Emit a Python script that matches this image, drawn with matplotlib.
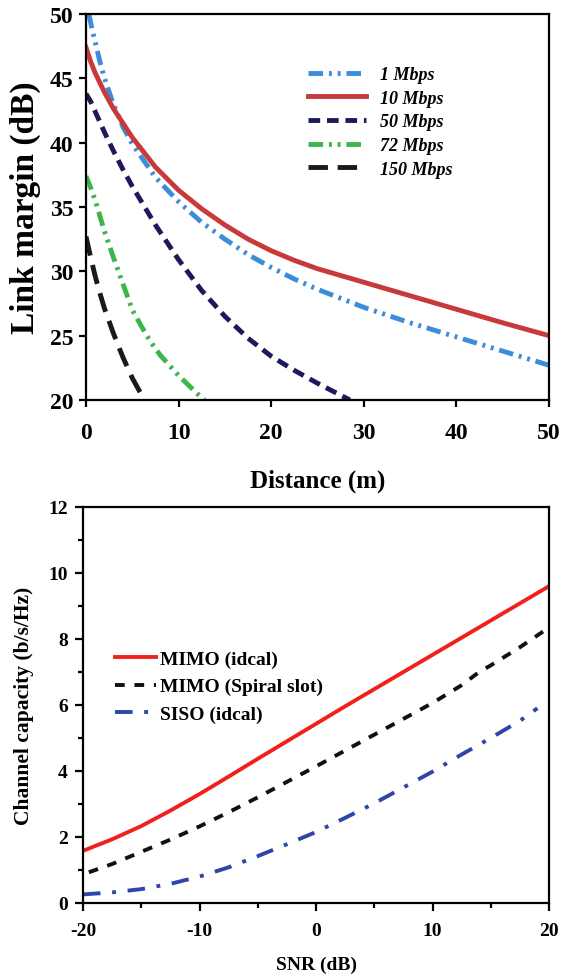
import matplotlib
matplotlib.use("Agg")
import matplotlib.pyplot as plt
from matplotlib.ticker import MultipleLocator

plt.rcParams['font.family'] = ['Liberation Serif', 'DejaVu Serif']
plt.rcParams['font.weight'] = 'bold'
plt.rcParams['axes.unicode_minus'] = False

# ---- top panel: link margin vs distance ----
rate_labels = ['1 Mbps', '10 Mbps', '50 Mbps', '72 Mbps', '150 Mbps']

dist_1 = [0.3, 0.6, 1, 1.5, 2, 3, 4, 5, 7.5, 10, 12.5, 15, 17.5, 20, 22.5, 25, 30, 35, 40, 45, 50]
margin_1 = [50, 49.0, 47.8, 46.3, 45.0, 42.9, 41.2, 39.9, 37.3, 35.4, 33.8, 32.5, 31.3,
            30.3, 29.4, 28.6, 27.2, 26.0, 24.9, 23.8, 22.7]

dist_10 = [0, 0.5, 1, 2, 3, 5, 7.5, 10, 12.5, 15, 17.5, 20, 22.5, 25, 30, 35, 40, 45, 50]
margin_10 = [47.4, 46.3, 45.4, 43.9, 42.6, 40.4, 38.1, 36.3, 34.85, 33.6, 32.5, 31.6,
             30.85, 30.2, 29.15, 28.1, 27.05, 26.0, 25.0]

dist_50 = [0, 0.5, 1, 2, 3, 4, 5, 7.5, 10, 12.5, 15, 17.5, 20, 22.5, 25, 28.5]
margin_50 = [43.8, 43.2, 42.4, 40.8, 39.3, 37.9, 36.6, 33.6, 30.9, 28.5, 26.5, 24.8,
             23.4, 22.3, 21.3, 20.0]

dist_72 = [0, 0.5, 1, 2, 3, 4, 5, 6, 7, 8, 9, 10, 11, 12, 12.8]
margin_72 = [37.4, 36.5, 35.5, 33.1, 31.0, 29.0, 27.0, 25.7, 24.5, 23.5, 22.7, 21.9,
             21.2, 20.5, 20.0]

dist_150 = [0, 0.5, 1, 1.5, 2, 3, 4, 5, 6.3]
margin_150 = [32.7, 31.1, 29.6, 28.3, 27.1, 25.1, 23.3, 21.7, 20.0]

# ---- bottom panel: channel capacity vs SNR ----
cap_labels = ['MIMO (idcal)', 'MIMO (Spiral slot)', 'SISO (idcal)']

snr_mimo = [-20, -17.5, -15, -12.5, -10, -7.5, -5, -2.5, 0, 2.5, 5, 7.5, 10, 12.5, 15, 17.5, 20]
cap_mimo = [1.58, 1.93, 2.33, 2.8, 3.3, 3.83, 4.37, 4.9, 5.43, 5.96, 6.48, 7.0, 7.52,
            8.04, 8.56, 9.08, 9.6]

snr_spiral = [-19.5, -17.5, -15, -12.5, -10, -7.5, -5, -2.5, 0, 2.5, 5, 7.5, 10, 12.5, 14, 15, 17.5, 19.8]
cap_spiral = [0.93, 1.18, 1.55, 1.92, 2.32, 2.75, 3.2, 3.67, 4.14, 4.62, 5.1, 5.58, 6.06,
              6.6, 7.0, 7.2, 7.75, 8.3]

snr_siso = [-20, -17.5, -15, -12.5, -10, -7.5, -5, -2.5, 0, 2.5, 5, 7.5, 10, 12.5, 15, 17.5, 19]
cap_siso = [0.26, 0.32, 0.42, 0.58, 0.8, 1.08, 1.42, 1.78, 2.15, 2.58, 3.02, 3.5, 3.98,
            4.5, 5.0, 5.52, 5.9]


def style_axes(ax, width=1.6):
    for sp in ax.spines.values():
        sp.set_linewidth(width)
    ax.tick_params(which='both', direction='out', width=width, top=False, right=False)


fig = plt.figure(figsize=(5.61, 9.78), dpi=100)

ax1 = fig.add_axes([0.1533, 0.590, 0.8253, 0.3947])
ax1.plot(dist_1, margin_1, color='#3b8ddb', lw=3.5, dashes=(3, 1.2, 0.6, 1.2, 0.6, 1.2), label=rate_labels[0])
ax1.plot(dist_10, margin_10, color='#c83a3a', lw=3.5, label=rate_labels[1])
ax1.plot(dist_50, margin_50, color='#1b1b5a', lw=3.5, dashes=(2.4, 1.4), label=rate_labels[2])
ax1.plot(dist_72, margin_72, color='#3db54a', lw=3.5, dashes=(3, 1.2, 0.6, 1.2, 0.6, 1.2), label=rate_labels[3])
ax1.plot(dist_150, margin_150, color='#1a1a1a', lw=3.5, dashes=(4, 2), label=rate_labels[4])
ax1.set_xlim(0, 50)
ax1.set_ylim(20, 50)
ax1.set_xticks([0, 10, 20, 30, 40, 50])
ax1.set_yticks([20, 25, 30, 35, 40, 45, 50])
style_axes(ax1)
ax1.tick_params(labelsize=17, length=5, pad=4)
ax1.tick_params(axis='x', pad=11)
ax1.set_xlabel('Distance (m)', fontsize=18, fontweight='bold', labelpad=18)
ax1.set_ylabel('Link margin (dB)', fontsize=24, fontweight='bold', labelpad=6)
leg1 = ax1.legend(loc='upper left', bbox_to_anchor=(0.48, 0.865), frameon=False,
                  borderpad=0, borderaxespad=0, handlelength=3.2, handletextpad=0.8,
                  labelspacing=0.37, prop={'size': 13, 'weight': 'bold', 'style': 'italic'})

ax2 = fig.add_axes([0.148, 0.0757, 0.8307, 0.4049])
ax2.plot(snr_mimo, cap_mimo, color='#f0201c', lw=2.8, label=cap_labels[0])
ax2.plot(snr_spiral, cap_spiral, color='#111111', lw=2.8, dashes=(2.5, 2.5), label=cap_labels[1])
ax2.plot(snr_siso, cap_siso, color='#2f45a8', lw=2.8, dashes=(4.5, 3, 1, 3), label=cap_labels[2])
ax2.set_xlim(-20, 20)
ax2.set_ylim(0, 12)
ax2.set_xticks([-20, -10, 0, 10, 20])
ax2.set_yticks([0, 2, 4, 6, 8, 10, 12])
ax2.xaxis.set_minor_locator(MultipleLocator(5))
ax2.yaxis.set_minor_locator(MultipleLocator(1))
style_axes(ax2)
ax2.tick_params(which='major', labelsize=14, length=6, pad=5)
ax2.tick_params(which='minor', length=3.5)
ax2.tick_params(axis='x', pad=8)
ax2.set_xlabel('SNR (dB)', fontsize=14, fontweight='bold', labelpad=12)
ax2.set_ylabel('Channel capacity (b/s/Hz)', fontsize=15.5, fontweight='bold', labelpad=10)
leg2 = ax2.legend(loc='upper left', bbox_to_anchor=(0.069, 0.638), frameon=False,
                  borderpad=0, borderaxespad=0, handlelength=2.1, handletextpad=0.2,
                  labelspacing=0.5, prop={'size': 14, 'weight': 'bold'})

fig.savefig('out.png', dpi=100)
